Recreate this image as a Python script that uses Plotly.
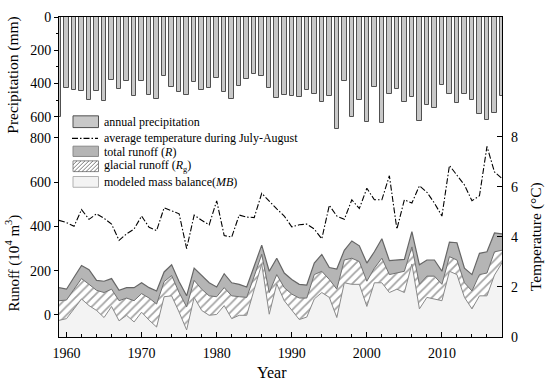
import plotly.graph_objects as go

years = list(range(1959, 2019))

precip = [600, 428, 441, 447, 500, 447, 506, 376, 431, 382,
          475, 382, 471, 494, 357, 422, 451, 466, 388, 441,
          428, 369, 451, 490, 412, 372, 343, 357, 425, 484,
          466, 475, 481, 441, 465, 510, 475, 676, 386, 602,
          500, 628, 422, 634, 461, 431, 510, 481, 624, 529,
          545, 406, 461, 516, 461, 500, 582, 618, 575, 475]

temp = [4.66, 4.57, 4.42, 5.09, 4.70, 4.92, 4.74, 4.51, 3.86, 4.12,
        4.31, 4.83, 4.38, 4.25, 5.16, 5.05, 4.92, 3.53, 4.87, 4.66,
        4.48, 5.44, 4.05, 3.99, 4.87, 4.79, 4.77, 5.74, 5.42, 5.12,
        4.83, 4.40, 4.48, 4.51, 4.31, 3.92, 5.26, 4.83, 4.70, 5.48,
        5.13, 5.94, 5.48, 5.48, 6.44, 4.31, 5.48, 5.35, 6.04, 5.78,
        5.35, 4.83, 6.85, 6.46, 6.07, 5.44, 5.64, 7.61, 6.59, 6.33]

runoff_R = [123, 116, 170, 223, 204, 156, 152, 164, 111, 123,
            123, 145, 123, 108, 194, 226, 150, 86, 211, 179,
            145, 126, 186, 145, 138, 126, 220, 315, 197, 256,
            189, 160, 138, 135, 234, 273, 214, 207, 292, 334,
            312, 234, 285, 344, 245, 248, 251, 376, 226, 248,
            248, 197, 329, 326, 211, 182, 278, 285, 370, 366]

runoff_Rg = [64, 67, 116, 164, 138, 111, 101, 116, 64, 76,
             64, 96, 76, 49, 150, 178, 101, 36, 156, 116,
             86, 82, 123, 86, 82, 79, 175, 274, 101, 182,
             123, 94, 76, 76, 182, 197, 160, 116, 248, 256,
             241, 152, 211, 256, 182, 189, 197, 307, 138, 175,
             175, 138, 263, 248, 145, 108, 182, 189, 285, 292]

mass_balance = [-25, -17, 27, 72, 42, 20, -12, 38, -27, -2,
                -32, 12, -24, -55, 82, 86, 12, -68, 79, 20,
                -2, 2, 42, -17, -2, -2, 115, 230, 3, 140,
                64, 20, -21, -10, 72, 101, 79, -12, 145, 138,
                138, 38, 145, 145, 101, 116, 101, 230, 27, 79,
                72, 64, 197, 182, 79, 27, 86, 86, 180, 235]

precip_ticks = [0, 200, 400, 600]
precip_minor = [100, 300, 500]
runoff_ticks = [0, 200, 400, 600, 800]
temp_ticks = [0, 2, 4, 6, 8]
year_ticks = [1960, 1970, 1980, 1990, 2000, 2010]

W, H = 550, 382
L, T = 59, 10          # plot area top-left (pixels)
X1, Y1 = 502, 337      # plot area bottom-right (pixels)
PW, PH = X1 - L, Y1 - T

runoff_range = [-100, 1346]
precip_range = [1923, 0]
temp_range = [0, 12.78]

FONT = "Liberation Serif"


def px(x):
    return (x - L) / PW


def py(y):
    return 1 - (y - T) / PH


fig = go.Figure()

fig.add_trace(go.Bar(x=years, y=precip, yaxis="y2", width=0.6,
                     marker=dict(color="#c8c8c8", line=dict(color="#505050", width=1)),
                     showlegend=False, name="annual precipitation"))

fig.add_trace(go.Scatter(x=years, y=[runoff_range[0]] * len(years), mode="lines",
                         line=dict(width=0, color="rgba(0,0,0,0)"), showlegend=False,
                         hoverinfo="skip"))
fig.add_trace(go.Scatter(x=years, y=mass_balance, mode="lines", fill="tonexty",
                         fillcolor="#f3f3f3", line=dict(color="#8a8a8a", width=1),
                         showlegend=False, name="MB"))
fig.add_trace(go.Scatter(x=years, y=runoff_Rg, mode="lines", fill="tonexty",
                         fillpattern=dict(shape="/", fgcolor="#4a4a4a", bgcolor="white",
                                          size=6, solidity=0.3),
                         line=dict(color="#707070", width=1),
                         showlegend=False, name="Rg"))
fig.add_trace(go.Scatter(x=years, y=runoff_R, mode="lines", fill="tonexty",
                         fillcolor="#b5b5b5", line=dict(color="#666666", width=1.2),
                         showlegend=False, name="R"))

fig.add_trace(go.Scatter(x=years, y=temp, yaxis="y3", mode="lines",
                         line=dict(color="black", width=1.1, dash="6px,2px,1.5px,2px"),
                         showlegend=False, name="temperature"))

axfont = dict(family=FONT, size=14, color="black")

fig.update_layout(
    width=W, height=H,
    margin=dict(l=L, r=W - X1, t=T, b=H - Y1),
    paper_bgcolor="white", plot_bgcolor="white",
    font=dict(family=FONT, color="black"),
    showlegend=False,
    bargap=0,
    xaxis=dict(range=[1959, 2018], showline=True, linecolor="black", linewidth=1.2,
               mirror=True, showgrid=False, zeroline=False,
               tickmode="array", tickvals=year_ticks, ticks="inside", ticklen=5,
               tickcolor="black", tickfont=axfont, ticklabelstandoff=3,
               minor=dict(tick0=1960, dtick=2, ticks="inside", ticklen=3, tickcolor="black")),
    yaxis=dict(range=runoff_range, showline=True, linecolor="black", linewidth=1.2,
               showgrid=False, zeroline=False, tickmode="array", tickvals=runoff_ticks,
               ticks="outside", ticklen=4, tickcolor="black", tickfont=axfont),
    yaxis2=dict(range=precip_range, overlaying="y", side="left", anchor="x",
                showline=False, showgrid=False, zeroline=False, tickmode="array",
                tickvals=precip_ticks, ticks="outside", ticklen=4, tickcolor="black",
                tickfont=axfont,
                minor=dict(tickmode="array", tickvals=precip_minor, ticks="outside",
                           ticklen=2, tickcolor="black")),
    yaxis3=dict(range=temp_range, overlaying="y", side="right", anchor="x",
                showline=True, linecolor="black", linewidth=1.2, showgrid=False,
                zeroline=False, tickmode="array", tickvals=temp_ticks, ticks="inside",
                ticklen=5, tickcolor="black", tickfont=axfont, ticklabelstandoff=5),
)

# axis titles
title_font = dict(family=FONT, size=15.5, color="black")


def title(text, x, y, angle=0, size=15.5):
    fig.add_annotation(text=text, x=px(x), y=py(y), xref="paper", yref="paper",
                       xanchor="center", yanchor="middle", showarrow=False,
                       textangle=angle, font=dict(family=FONT, size=size, color="black"))


title("Precipitation (mm)", 13, 69, -90)
title("Runoff (10<sup>4</sup> m<sup>3</sup>)", 13, 262, -90, 15)
title("Temperature (°C)", 536, 235, -90)
title("Year", 272, 373, 0, 16)

# manual legend
lx0, lx1 = 73, 98.5
leg_font = dict(family=FONT, size=12, color="black")


def box(y0, y1, fill, edge):
    fig.add_shape(type="rect", xref="paper", yref="paper", x0=px(lx0), x1=px(lx1),
                  y0=py(y1), y1=py(y0), fillcolor=fill, line=dict(color=edge, width=1))


def label(text, yc):
    fig.add_annotation(text=text, x=px(102), y=py(yc), xref="paper", yref="paper",
                       xanchor="left", yanchor="middle", showarrow=False, font=leg_font)


box(111, 123, "#c8c8c8", "#505050")
label("annual precipitation", 117.5)

fig.add_shape(type="line", xref="paper", yref="paper", x0=px(72), x1=px(98), y0=py(134),
              y1=py(134), line=dict(color="black", width=1.1, dash="6px,2px,1.5px,2px"))
label("average temperature during July-August", 134)

box(142, 152.5, "#b5b5b5", "#8a8a8a")
label("total runoff (<i>R</i>)", 147.5)

hy0, hy1 = 157, 168
box(hy0, hy1, "white", "#8a8a8a")
h = hy1 - hy0
step = 4.0
a = lx0 - h
while a < lx1:
    t0 = max(0.0, lx0 - a)
    t1 = min(h, lx1 - a)
    if t1 > t0:
        fig.add_shape(type="line", xref="paper", yref="paper",
                      x0=px(a + t0), y0=py(hy1 - t0), x1=px(a + t1), y1=py(hy1 - t1),
                      line=dict(color="#5a5a5a", width=0.8))
    a += step
label("glacial runoff (<i>R</i><sub>g</sub>)", 162.5)

box(173, 184, "#f3f3f3", "#b0b0b0")
label("modeled mass balance(<i>MB</i>)", 178.5)

fig.write_html("out.html",
               config={"displayModeBar": False},
               post_script="document.body.style.margin='0';document.body.style.overflow='hidden';")
